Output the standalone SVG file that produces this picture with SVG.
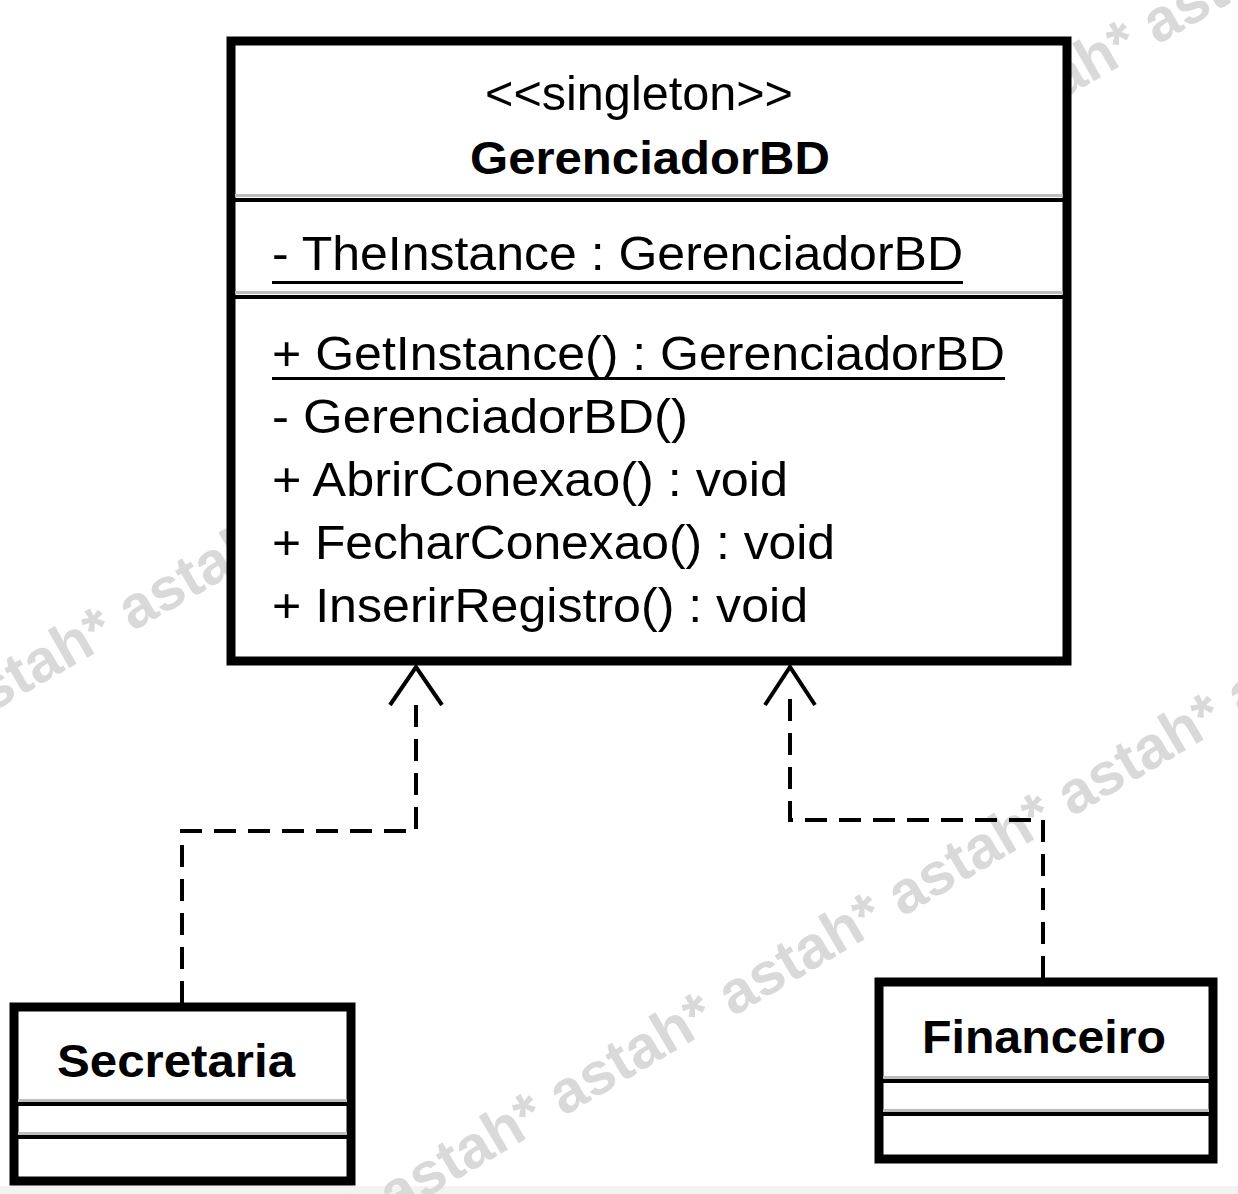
<svg xmlns="http://www.w3.org/2000/svg" width="1238" height="1194" viewBox="0 0 1238 1194">
<style>
.wm{font-family:"Liberation Sans",Arial,sans-serif;font-weight:bold;font-size:60px;fill:#d9d9d9}
.box{fill:#fff;stroke:#000;stroke-width:9}
.sepg{fill:#bdbdbd}
.sepb{fill:#000}
.t{font-family:"Liberation Sans",Arial,sans-serif;font-size:48px;fill:#000}
.b{font-family:"Liberation Sans",Arial,sans-serif;font-size:46px;font-weight:bold;fill:#000}
.dash{fill:none;stroke:#000;stroke-width:4;stroke-dasharray:22 12}
.head{fill:none;stroke:#000;stroke-width:4}
</style>
<rect x="0" y="0" width="1238" height="1194" fill="#fff"/>
<rect x="0" y="1186" width="1238" height="8" fill="#f3f3f3"/>
<g id="watermarks">
<text class="wm" transform="translate(132,632) rotate(-29.8)" x="-590">astah* astah* astah* astah* astah* astah* astah* astah* astah* astah* astah*</text>
<text class="wm" transform="translate(563,1117) rotate(-30.5)" x="-590">astah* astah* astah* astah* astah* astah* astah* astah* astah*</text>
</g>
<g id="connectors">
<path class="dash" d="M182,1003 V831 H416 V693"/>
<path class="head" d="M390,705 L416,667 L442,705"/>
<path class="dash" d="M1043,978 V820 H790 V693"/>
<path class="head" d="M765,705 L790,667 L815,705"/>
</g>
<g id="GerenciadorBD">
<rect class="box" x="231" y="41" width="836" height="620"/>
<rect class="sepg" x="235" y="194" width="828" height="3"/>
<rect class="sepb" x="235" y="198" width="828" height="4"/>
<rect class="sepg" x="235" y="291" width="828" height="3"/>
<rect class="sepb" x="235" y="295" width="828" height="4"/>
<text class="t" x="485" y="110" textLength="308" lengthAdjust="spacingAndGlyphs">&lt;&lt;singleton&gt;&gt;</text>
<text class="b" x="470" y="174" textLength="360" lengthAdjust="spacingAndGlyphs">GerenciadorBD</text>
<text class="t" x="272" y="270" textLength="691" lengthAdjust="spacingAndGlyphs">- TheInstance : GerenciadorBD</text>
<rect x="272" y="281" width="691" height="3" fill="#000"/>
<text class="t" x="272" y="370" textLength="733" lengthAdjust="spacingAndGlyphs">+ GetInstance() : GerenciadorBD</text>
<rect x="272" y="377" width="733" height="3" fill="#000"/>
<text class="t" x="272" y="433" textLength="416" lengthAdjust="spacingAndGlyphs">- GerenciadorBD()</text>
<text class="t" x="272" y="496" textLength="516" lengthAdjust="spacingAndGlyphs">+ AbrirConexao() : void</text>
<text class="t" x="272" y="559" textLength="563" lengthAdjust="spacingAndGlyphs">+ FecharConexao() : void</text>
<text class="t" x="272" y="622" textLength="536" lengthAdjust="spacingAndGlyphs">+ InserirRegistro() : void</text>
</g>
<g id="Secretaria">
<rect class="box" x="14" y="1007" width="337" height="174"/>
<rect class="sepg" x="18" y="1099" width="329" height="3"/>
<rect class="sepb" x="18" y="1102" width="329" height="4"/>
<rect class="sepg" x="18" y="1132" width="329" height="3"/>
<rect class="sepb" x="18" y="1135" width="329" height="4"/>
<text class="b" x="57" y="1077" textLength="238" lengthAdjust="spacingAndGlyphs">Secretaria</text>
</g>
<g id="Financeiro">
<rect class="box" x="879" y="982" width="334" height="177"/>
<rect class="sepg" x="883" y="1076" width="326" height="3"/>
<rect class="sepb" x="883" y="1079" width="326" height="4"/>
<rect class="sepg" x="883" y="1109" width="326" height="3"/>
<rect class="sepb" x="883" y="1112" width="326" height="4"/>
<text class="b" x="922" y="1053" textLength="244" lengthAdjust="spacingAndGlyphs">Financeiro</text>
</g>
</svg>
